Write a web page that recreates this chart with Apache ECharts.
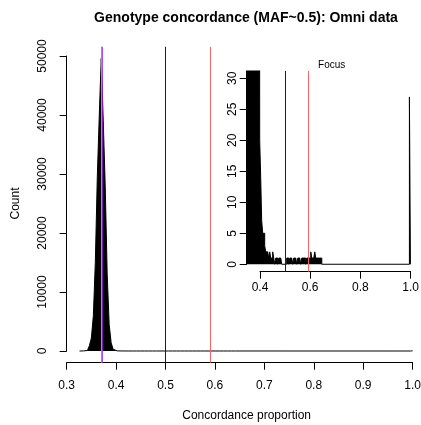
<!DOCTYPE html>
<html><head><meta charset="utf-8">
<script src="https://cdn.jsdelivr.net/npm/echarts@6/dist/echarts.min.js"></script>
<style>html,body{margin:0;padding:0;background:#fff}#c{width:421px;height:425px}</style>
</head><body><div id="c"></div>
<script>
// ---- text ----
const titleText = 'Genotype concordance (MAF~0.5): Omni data';
const insetTitle = 'Focus';
const xAxisTitle = 'Concordance proportion';
const yAxisTitle = 'Count';

// ---- histogram (non-empty bins; empty bins are zero) ----
const binWidth = 0.004;
const binLeft = [0.326,0.330,0.334,0.338,0.342,0.346,0.350,0.354,0.358,0.362,0.366,0.370,0.374,0.378,0.382,0.386,0.390,0.394,0.398,0.402,0.406,0.410,0.414,0.418,0.422,0.426,0.430,0.434,0.438,0.442,0.446,0.450,0.454,0.462,0.466,0.474,0.478,0.482,0.506,0.510,0.518,0.522,0.526,0.534,0.538,0.542,0.550,0.554,0.558,0.566,0.570,0.574,0.578,0.586,0.590,0.594,0.598,0.602,0.606,0.610,0.614,0.618,0.622,0.626,0.630,0.634,0.638,0.642,0.996];
const binCount = [5,12,30,90,250,900,2200,6000,15000,29500,40000,49600,39000,28000,13000,4500,1400,300,20,14,7,5,5,3,2,2,2,1,2,1,1,2,1,1,1,1,1,1,1,1,1,1,1,1,1,1,1,1,1,1,1,1,1,1,1,1,1,2,1,1,1,2,1,1,1,1,1,1,27];

// ---- reference lines ----
const refLineX      = [0.3715, 0.3745, 0.5, 0.593];
const refLineColor  = ['#A020F0', '#00FF00', '#0000FF', '#FA6464'];
const refLineWidth  = [1.6, 1, 1, 1];
const insetLineIdx  = [2, 3];

// ---- tick labels ----
const mainXTicks  = [0.3,0.4,0.5,0.6,0.7,0.8,0.9,1.0];
const mainYTicks  = [0,10000,20000,30000,40000,50000];
const insetXTicks = [0.4,0.6,0.8,1.0];
const insetYTicks = [0,5,10,15,20,25,30];

// build step outline of histogram
function histPoints(){
  const pts = [[binLeft[0], 0]];
  for (let i = 0; i < binLeft.length; i++) {
    const l = binLeft[i], r = +(l + binWidth).toFixed(4);
    if (i > 0) {
      const pr = +(binLeft[i-1] + binWidth).toFixed(4);
      if (l - pr > 1e-9) pts.push([pr, 0], [l, 0]);
    }
    pts.push([l, binCount[i]], [r, binCount[i]]);
  }
  pts.push([+(binLeft[binLeft.length-1] + binWidth).toFixed(4), 0]);
  return pts;
}
const pts = histPoints();

const FONT = 'Liberation Sans, Arial, Helvetica, sans-serif';
const axisCommon = {
  axisLine: {show: true, onZero: false, lineStyle: {color: '#000', width: 1}},
  axisTick: {show: true, length: 7, inside: false, lineStyle: {color: '#000', width: 1}},
  splitLine: {show: false},
};
function ticksAxis(ticks, extra){
  return Object.assign({
    type: 'value', min: ticks[0], max: ticks[ticks.length-1], interval: ticks[1]-ticks[0],
  }, axisCommon, extra);
}
function markLines(idx){
  return {
    silent: true, symbol: ['none','none'], animation: false,
    label: {show: false}, emphasis: {disabled: true},
    data: idx.map(i => ({xAxis: refLineX[i], lineStyle: {color: refLineColor[i], width: refLineWidth[i], type: 'solid'}}))
  };
}

const option = {
  animation: false,
  textStyle: {fontFamily: FONT},
  title: [
    {text: titleText, left: 246, top: 11, textAlign: 'center', padding: 0,
     textStyle: {fontSize: 14, fontWeight: 'bold', color: '#000', fontFamily: FONT}},
    {text: insetTitle, left: 331.7, top: 60, textAlign: 'center', padding: 0,
     textStyle: {fontSize: 10, fontWeight: 'normal', color: '#000', fontFamily: FONT}}
  ],
  grid: [
    {left: 66.66, right: -5, top: 46.8, bottom: 62.3, outerBoundsMode: 'none'},
    {left: 66.66, right: 8.4, top: 56, bottom: 74, outerBoundsMode: 'none'},
    {left: 246.9, right: 4.3, top: 70.9, bottom: 153.3, outerBoundsMode: 'none'},
    {left: 260, right: 10.4, top: 78.3, bottom: 160.7, outerBoundsMode: 'none'}
  ],
  xAxis: [
    {gridIndex: 0, type: 'value', min: 0.3, max: 1.027, show: false},
    ticksAxis(mainXTicks, {gridIndex: 1, offset: 11.7,
      axisLabel: {margin: 16.5, fontSize: 12, color: '#000', fontFamily: FONT, formatter: v => v.toFixed(1)},
      name: xAxisTitle, nameLocation: 'middle', nameGap: 47.3,
      nameTextStyle: {fontSize: 12, color: '#000', fontFamily: FONT, padding: [0,0,0,14]}}),
    {gridIndex: 2, type: 'value', min: 0.3469, max: 1.0251, show: false},
    ticksAxis(insetXTicks, {gridIndex: 3, offset: 7.4,
      axisLabel: {margin: 9.8, fontSize: 12, color: '#000', fontFamily: FONT, formatter: v => v.toFixed(1)}})
  ],
  yAxis: [
    {gridIndex: 0, type: 'value', min: -1983, max: 51559, show: false},
    ticksAxis(mainYTicks, {gridIndex: 1,
      axisLabel: {margin: 17.5, rotate: 90, fontSize: 12, color: '#000', fontFamily: FONT, formatter: v => String(v)},
      name: yAxisTitle, nameLocation: 'middle', nameRotate: 90, nameGap: 45,
      nameTextStyle: {fontSize: 12, color: '#000', fontFamily: FONT}}),
    {gridIndex: 2, type: 'value', min: -1.2, max: 31.2, show: false},
    ticksAxis(insetYTicks, {gridIndex: 3, offset: 13.3,
      axisLabel: {margin: 8.5, rotate: 90, fontSize: 12, color: '#000', fontFamily: FONT, formatter: v => String(v)}})
  ],
  series: [
    {type: 'line', xAxisIndex: 0, yAxisIndex: 0, data: pts, symbol: 'none', clip: true,
     lineStyle: {color: '#000', width: 1}, areaStyle: {color: '#000', opacity: 1},
     emphasis: {disabled: true}, silent: true, z: 2,
     markLine: markLines([0,1,2,3])},
    {type: 'line', xAxisIndex: 2, yAxisIndex: 2, data: pts, symbol: 'none', clip: true,
     lineStyle: {color: '#000', width: 1}, areaStyle: {color: '#000', opacity: 1},
     emphasis: {disabled: true}, silent: true, z: 3,
     markLine: markLines(insetLineIdx)}
  ]
};
const chart = echarts.init(document.getElementById('c'), null, {renderer: 'canvas'});
chart.setOption(option);
</script>
</body></html>
